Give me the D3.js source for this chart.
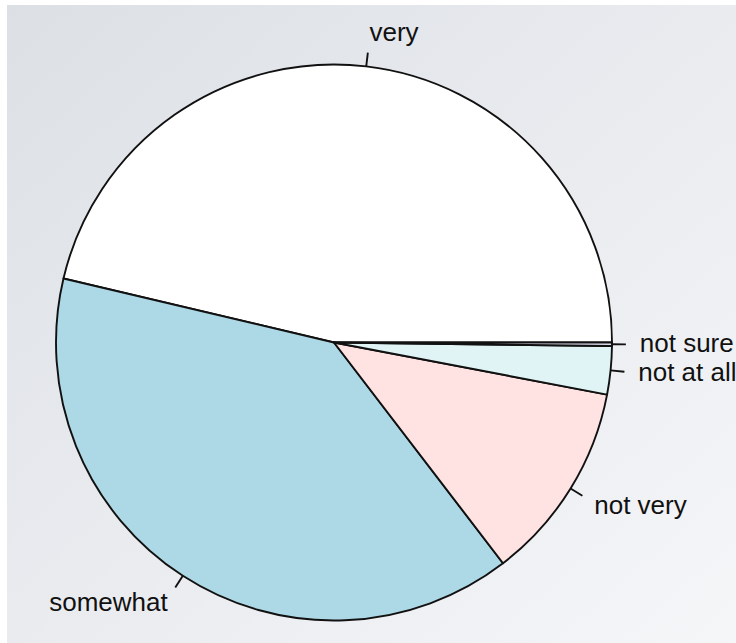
<!DOCTYPE html>
<html><head><meta charset="utf-8">
<script src="https://cdn.jsdelivr.net/npm/d3@7/dist/d3.min.js"></script>
<style>html,body{margin:0;padding:0;background:#fff;}svg{display:block;}</style>
</head><body>
<svg id="c" width="736" height="643"></svg>
<script>
const categories = ["very", "somewhat", "not very", "not at all", "not sure"];
const values = [46.3, 39.1, 11.6, 2.8, 0.2];
const colors = ["#FFFFFF", "#ADD8E6", "#FFE2E2", "#E0F4F6", "#E6E6FA"];

const W = 736, H = 643;
const svg = d3.select("#c");
const defs = svg.append("defs");
const g = defs.append("linearGradient").attr("id","bg").attr("x1","0").attr("y1","0").attr("x2","1").attr("y2","1");
g.append("stop").attr("offset","0").attr("stop-color","#dce0e5");
g.append("stop").attr("offset","0.5").attr("stop-color","#e9ebef");
g.append("stop").attr("offset","1").attr("stop-color","#f5f6f8");
svg.append("rect").attr("x",7).attr("y",5).attr("width",W-7).attr("height",H-5).attr("fill","url(#bg)");

const cx = 334, cy = 342.5, r = 278;
const pie = d3.pie().sort(null).startAngle(Math.PI/2).endAngle(Math.PI/2 - 2*Math.PI);
const arcs = pie(values);
const arc = d3.arc().innerRadius(0).outerRadius(r);
const root = svg.append("g").attr("transform", `translate(${cx},${cy})`);

root.selectAll("path.slice").data(arcs).join("path")
  .attr("class","slice")
  .attr("d", arc)
  .attr("fill", (d,i) => colors[i])
  .attr("stroke", "#111")
  .attr("stroke-width", 1.9)
  .attr("stroke-linejoin","round");

const mid = d => (d.startAngle + d.endAngle)/2;
root.selectAll("line.tick").data(arcs).join("line")
  .attr("x1", d => r*Math.sin(mid(d)))
  .attr("y1", d => -r*Math.cos(mid(d)))
  .attr("x2", d => 1.05*r*Math.sin(mid(d)))
  .attr("y2", d => -1.05*r*Math.cos(mid(d)))
  .attr("stroke","#111").attr("stroke-width",1.9);

root.selectAll("text.lab").data(arcs).join("text")
  .attr("x", d => 1.1*r*Math.sin(mid(d)))
  .attr("y", d => -1.12*r*Math.cos(mid(d)) + 7.5)
  .attr("text-anchor", d => Math.sin(mid(d)) >= 0 ? "start" : "end")
  .attr("font-family", "'Liberation Sans', Arial, sans-serif")
  .attr("font-size", 26)
  .attr("fill", "#111")
  .text((d,i) => categories[i]);
</script>
</body></html>
